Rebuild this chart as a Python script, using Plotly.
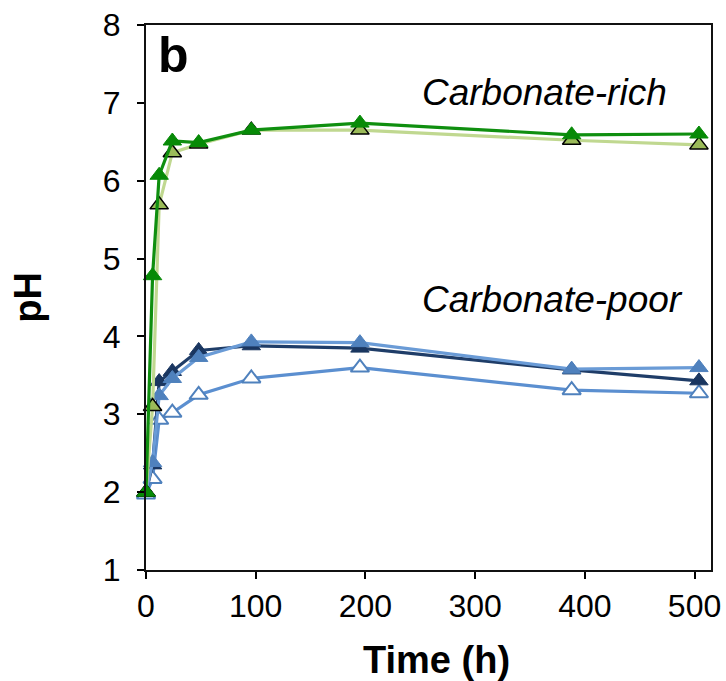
import plotly.graph_objects as go

time_h = [0, 6, 12, 24, 48, 96, 195, 388, 504]

rich_dark = [2.00, 4.78, 6.07, 6.51, 6.49, 6.65, 6.74, 6.59, 6.60]
rich_light = [2.00, 3.10, 5.69, 6.36, 6.47, 6.65, 6.65, 6.52, 6.46]
poor_navy = [2.00, 2.35, 3.42, 3.55, 3.82, 3.88, 3.85, 3.57, 3.43]
poor_blue = [2.00, 2.38, 3.24, 3.46, 3.73, 3.93, 3.92, 3.58, 3.60]
poor_open = [1.97, 2.17, 2.93, 3.02, 3.25, 3.46, 3.60, 3.31, 3.27]

x_ticks = [0, 100, 200, 300, 400, 500]
y_ticks = [1, 2, 3, 4, 5, 6, 7, 8]
x_range = [0, 515]
y_range = [1, 8]

FONT = "Liberation Sans, Arial, sans-serif"

fig = go.Figure()

def add(y, line_color, fill, outline, owidth=1.5):
    fig.add_trace(go.Scatter(
        x=time_h, y=y, mode="lines+markers",
        line=dict(color=line_color, width=3.2),
        marker=dict(symbol="triangle-up", size=16, color=fill,
                    line=dict(color=outline, width=owidth)),
        showlegend=False, cliponaxis=False))

add(poor_open, "#5b8fd0", "#ffffff", "#4f81bd", 2)
add(poor_navy, "#1f3d68", "#1a3660", "#1a3660", 1)
add(poor_blue, "#6a9bd6", "#4f81bd", "#4f81bd", 1)
add(rich_light, "#c0d890", "#9bbb59", "#000000", 1.5)
add(rich_dark, "#0f8f0f", "#078a07", "#078a07", 1)

fig.update_layout(
    width=726, height=681,
    margin=dict(l=146, r=15, t=25, b=111),
    paper_bgcolor="white", plot_bgcolor="white",
    font=dict(family=FONT, color="black", size=32),
    xaxis=dict(range=x_range, tickvals=x_ticks, ticks="outside", ticklen=7,
               tickwidth=2, tickcolor="black", showline=True, linecolor="#111111",
               linewidth=2, mirror=True, showgrid=False, zeroline=False,
               automargin=False, tickfont=dict(size=32), ticklabeloverflow="allow"),
    yaxis=dict(range=y_range, tickvals=y_ticks, ticks="outside", ticklen=7,
               tickwidth=2, tickcolor="black", showline=True, linecolor="#111111",
               linewidth=2, mirror=True, showgrid=False, zeroline=False,
               automargin=False, tickfont=dict(size=32), ticklabelstandoff=10,
               ticklabeloverflow="allow",
               title=dict(text="<b>pH</b>", font=dict(size=38), standoff=50)),
    annotations=[
        dict(text="<b>Time (h)</b>", xref="paper", yref="paper", x=0.515, y=-0.165,
             xanchor="center", yanchor="middle", showarrow=False, font=dict(size=38)),
        dict(text="<b>b</b>", xref="paper", yref="paper", x=0.018, y=1.0,
             xanchor="left", yanchor="top", showarrow=False, font=dict(size=50)),
        dict(text="<i>Carbonate-rich</i>", xref="paper", yref="paper", x=0.485, y=0.877,
             xanchor="left", yanchor="middle", showarrow=False, font=dict(size=37)),
        dict(text="<i>Carbonate-poor</i>", xref="paper", yref="paper", x=0.485, y=0.497,
             xanchor="left", yanchor="middle", showarrow=False, font=dict(size=37)),
    ],
)

fig.write_html("out.html", config={"displayModeBar": False},
               post_script="document.body.style.margin='0';")
